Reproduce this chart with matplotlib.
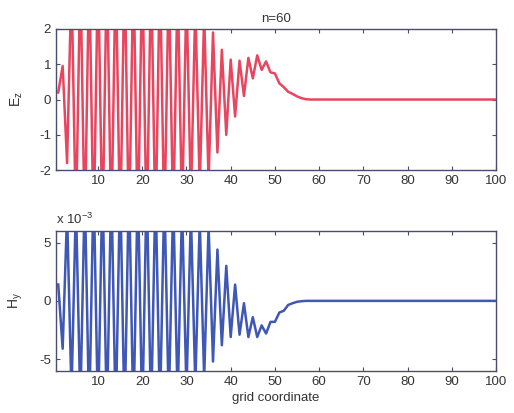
import matplotlib
matplotlib.use("Agg")
import matplotlib.pyplot as plt
import numpy as np

plt.rcParams['font.family'] = ['Liberation Sans', 'DejaVu Sans']

# grid coordinate (1..100)
grid = list(range(1, 101))

# Ez values (values beyond +/-2 are clipped by the axes)
ez_values = [0.2, 0.95, -1.8, 3.4, -3.6, 3.7, -3.8, 3.8, -3.9, 3.9,
             -3.9, 3.9, -3.9, 3.9, -3.9, 3.9, -3.9, 3.9, -3.9, 3.9,
             -3.9, 3.8, -3.8, 3.8, -3.7, 3.6, -3.5, 3.4, -3.3, 3.1,
             -2.9, 2.7, -2.5, 2.4, -2.3, 1.9, -1.5, 1.41, -1.0, 1.13,
             -0.48, 1.1, 0.1, 1.18, 0.6, 1.25, 0.84, 1.08, 0.77, 0.74,
             0.46, 0.35, 0.22, 0.16, 0.09, 0.04, 0.01] + [0.0] * 43

# Hy values (x 1e-3) (values beyond +/-6 are clipped)
hy_values = [1.4, -4.1, 7.5, -8.0, 8.5, -9.0, 9.5, -10.0, 10.2, -10.3,
             10.3, -10.3, 10.3, -10.3, 10.3, -10.3, 10.3, -10.3, 10.3, -10.2,
             10.1, -10.0, 9.8, -9.6, 9.4, -9.1, 8.8, -8.5, 8.1, -7.8,
             7.5, -7.2, 6.9, -6.6, 6.4, -5.2, 4.4, -3.8, 3.0, -3.1,
             1.4, -2.9, -0.2, -3.1, -1.4, -3.1, -2.1, -2.8, -1.8, -1.8,
             -1.0, -0.85, -0.35, -0.2, -0.08, -0.03, 0.0] + [0.0] * 43

ez_ticks = [-2, -1, 0, 1, 2]
hy_ticks = [-5, 0, 5]
x_ticks = [10, 20, 30, 40, 50, 60, 70, 80, 90, 100]

ez_color = '#e8455f'
hy_color = '#3f57b5'
frame_color = '#4c4c70'
text_color = '#333333'

fig = plt.figure(figsize=(5.14, 4.13), dpi=100)
ax1 = fig.add_axes([0.109, 0.588, 0.856, 0.342])
ax2 = fig.add_axes([0.109, 0.102, 0.856, 0.339])

hy_scaled = np.array(hy_values) * 1e-3

ax1.plot(grid, ez_values, color=ez_color, lw=1.8)
ax2.plot(grid, hy_scaled, color=hy_color, lw=1.8)

ax1.set_ylim(-2, 2)
ax2.set_ylim(-6e-3, 6e-3)
for ax in (ax1, ax2):
    ax.set_xlim(0.5, 100)
    ax.set_xticks(x_ticks)
    ax.tick_params(direction='in', top=True, right=True, length=3,
                   labelsize=9.5, colors=frame_color, labelcolor=text_color,
                   width=0.8)
    for s in ax.spines.values():
        s.set_color(frame_color)
        s.set_linewidth(1.0)

ax1.set_yticks(ez_ticks)
ax1.set_yticklabels([str(t) for t in ez_ticks])
ax2.set_yticks([t * 1e-3 for t in hy_ticks])
ax2.set_yticklabels([str(t) for t in hy_ticks])

ax1.set_title('n=60', fontsize=9.5, color=text_color, pad=5)
ax1.set_ylabel(r'E$_\mathregular{z}$', fontsize=10, color=text_color, labelpad=10)
ax2.set_ylabel(r'H$_\mathregular{y}$', fontsize=10, color=text_color, labelpad=10)
ax2.set_xlabel('grid coordinate', fontsize=9.5, color=text_color, labelpad=3)
ax2.text(0.0, 1.03, r'x 10$^{\mathregular{-3}}$', transform=ax2.transAxes,
         fontsize=9.5, color=text_color, ha='left', va='bottom')

fig.savefig('out.png', dpi=100)
